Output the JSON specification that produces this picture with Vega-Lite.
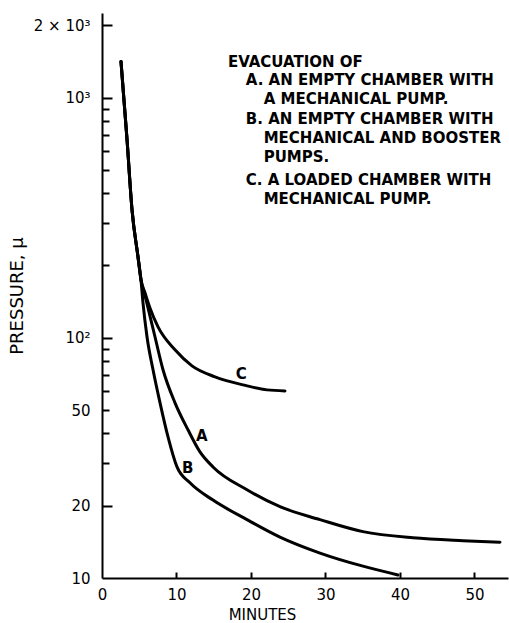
{
  "$schema": "https://vega.github.io/schema/vega-lite/v6.json",
  "width": 406,
  "height": 565,
  "autosize": {"type": "none"},
  "padding": {"left": 102, "top": 13, "right": 1, "bottom": 45},
  "background": "white",
  "config": {
    "view": {"stroke": null},
    "axis": {"grid": false, "domainColor": "black", "labelColor": "black", "titleColor": "black", "labelFont": "DejaVu Sans", "titleFont": "DejaVu Sans", "titleFontWeight": "normal"}
  },
  "resolve": {"axis": {"x": "independent", "y": "independent"}},
  "datasets": {
    "curves": [
      {"series": "A", "minutes": 2.55, "pressure": 1413},
      {"series": "A", "minutes": 3.36, "pressure": 668},
      {"series": "A", "minutes": 4.03, "pressure": 341},
      {"series": "A", "minutes": 4.83, "pressure": 217.5},
      {"series": "A", "minutes": 5.23, "pressure": 174.5},
      {"series": "A", "minutes": 5.91, "pressure": 144},
      {"series": "A", "minutes": 7.11, "pressure": 101},
      {"series": "A", "minutes": 8.19, "pressure": 73.6},
      {"series": "A", "minutes": 9.8, "pressure": 53.6},
      {"series": "A", "minutes": 11.54, "pressure": 41.4},
      {"series": "A", "minutes": 13.15, "pressure": 33.5},
      {"series": "A", "minutes": 14.9, "pressure": 29.0},
      {"series": "A", "minutes": 19.46, "pressure": 23.3},
      {"series": "A", "minutes": 23.89, "pressure": 19.8},
      {"series": "A", "minutes": 29.26, "pressure": 17.5},
      {"series": "A", "minutes": 35.03, "pressure": 15.6},
      {"series": "A", "minutes": 41.74, "pressure": 14.7},
      {"series": "A", "minutes": 48.46, "pressure": 14.3},
      {"series": "A", "minutes": 53.42, "pressure": 14.1},
      {"series": "B", "minutes": 2.55, "pressure": 1413},
      {"series": "B", "minutes": 3.36, "pressure": 668},
      {"series": "B", "minutes": 4.03, "pressure": 341},
      {"series": "B", "minutes": 4.83, "pressure": 217.5},
      {"series": "B", "minutes": 5.23, "pressure": 174.5},
      {"series": "B", "minutes": 5.5, "pressure": 140},
      {"series": "B", "minutes": 6.04, "pressure": 101},
      {"series": "B", "minutes": 6.85, "pressure": 73.6},
      {"series": "B", "minutes": 7.79, "pressure": 53.6},
      {"series": "B", "minutes": 8.86, "pressure": 38.7},
      {"series": "B", "minutes": 10.07, "pressure": 29.0},
      {"series": "B", "minutes": 11.81, "pressure": 24.9},
      {"series": "B", "minutes": 14.9, "pressure": 21.1},
      {"series": "B", "minutes": 19.46, "pressure": 17.5},
      {"series": "B", "minutes": 23.89, "pressure": 14.8},
      {"series": "B", "minutes": 29.26, "pressure": 12.7},
      {"series": "B", "minutes": 35.03, "pressure": 11.2},
      {"series": "B", "minutes": 39.73, "pressure": 10.3},
      {"series": "C", "minutes": 2.55, "pressure": 1413},
      {"series": "C", "minutes": 3.36, "pressure": 668},
      {"series": "C", "minutes": 4.03, "pressure": 341},
      {"series": "C", "minutes": 4.83, "pressure": 217.5},
      {"series": "C", "minutes": 5.23, "pressure": 174.5},
      {"series": "C", "minutes": 5.77, "pressure": 154},
      {"series": "C", "minutes": 6.44, "pressure": 133},
      {"series": "C", "minutes": 7.52, "pressure": 111},
      {"series": "C", "minutes": 9.8, "pressure": 89.1},
      {"series": "C", "minutes": 12.08, "pressure": 76.4},
      {"series": "C", "minutes": 15.17, "pressure": 68.8},
      {"series": "C", "minutes": 18.93, "pressure": 63.7},
      {"series": "C", "minutes": 22.15, "pressure": 60.7},
      {"series": "C", "minutes": 24.56, "pressure": 60.1}
    ],
    "letters": [
      {"label": "A", "minutes": 13.4, "pressure": 39.1},
      {"label": "B", "minutes": 11.5, "pressure": 28.7},
      {"label": "C", "minutes": 18.7, "pressure": 70.8}
    ],
    "notes": [
      {"text": "EVACUATION OF", "minutes": 16.9, "pressure": 1413},
      {"text": "A. AN EMPTY CHAMBER WITH", "minutes": 19.3, "pressure": 1189},
      {"text": "A MECHANICAL PUMP.", "minutes": 21.7, "pressure": 990},
      {"text": "B. AN EMPTY CHAMBER WITH", "minutes": 19.3, "pressure": 817},
      {"text": "MECHANICAL AND BOOSTER", "minutes": 21.7, "pressure": 681},
      {"text": "PUMPS.", "minutes": 21.7, "pressure": 568},
      {"text": "C. A LOADED CHAMBER WITH", "minutes": 19.3, "pressure": 455},
      {"text": "MECHANICAL PUMP.", "minutes": 21.7, "pressure": 379}
    ]
  },
  "layer": [
    {
      "data": {"name": "curves"},
      "mark": {"type": "line", "color": "black", "strokeWidth": 3, "interpolate": "monotone", "strokeCap": "round", "strokeJoin": "round"},
      "encoding": {
        "x": {
          "field": "minutes", "type": "quantitative",
          "scale": {"domain": [0, 54.5], "nice": false},
          "axis": {
            "title": "MINUTES", "titleFontSize": 15, "titleX": 160, "titleY": 44, "titleBaseline": "bottom",
            "values": [0, 10, 20, 30, 40, 50], "format": "d",
            "ticks": true, "tickColor": "black", "tickOpacity": 0, "tickSize": -6, "tickWidth": 2, "domainWidth": 2,
            "labelFontSize": 15, "labelPadding": 15, "labelFlush": false
          }
        },
        "y": {
          "field": "pressure", "type": "quantitative",
          "scale": {"type": "log", "domain": [10, 2250], "nice": false},
          "axis": {
            "title": "PRESSURE, μ", "titleFontSize": 18, "titlePadding": 7,
            "values": [10, 20, 50, 100, 1000, 2000],
            "labelExpr": "datum.value == 10 ? '10' : datum.value == 20 ? '20' : datum.value == 50 ? '50' : datum.value == 100 ? '10²' : datum.value == 1000 ? '10³' : '2 × 10³'",
            "ticks": true, "tickColor": "black", "tickOpacity": 0, "tickSize": 8,
            "tickWidth": 2, "domainWidth": 2,
            "labelFontSize": 15, "labelPadding": 4, "labelFlush": false, "labelOverlap": false
          }
        },
        "detail": {"field": "series"},
        "order": {"field": "minutes"}
      }
    },
    {
      "data": {"name": "letters"},
      "mark": {"type": "text", "font": "DejaVu Sans", "fontWeight": "bold", "fontSize": 15, "color": "black"},
      "encoding": {
        "x": {
          "field": "minutes", "type": "quantitative",
          "axis": {"orient": "top", "offset": -565, "values": [10, 20, 30, 40, 50], "labels": false, "domain": false, "title": null, "ticks": true, "tickColor": "black", "tickSize": 6, "tickWidth": 2}
        },
        "y": {
          "field": "pressure", "type": "quantitative",
          "axis": {
            "orient": "right", "offset": -406, "labels": false, "domain": false, "title": null,
            "values": [20, 30, 40, 50, 60, 70, 80, 90, 100, 200, 300, 400, 500, 600, 700, 800, 900, 1000, 2000],
            "ticks": true, "tickColor": "black",
            "tickSize": {"condition": {"test": "indexof([20, 100, 1000, 2000], datum.value) >= 0", "value": 10}, "value": 7},
            "tickWidth": 2
          }
        },
        "text": {"field": "label"}
      }
    },
    {
      "data": {"name": "notes"},
      "mark": {"type": "text", "font": "DejaVu Sans", "fontWeight": "bold", "fontSize": 15, "align": "left", "baseline": "middle", "color": "black"},
      "encoding": {
        "x": {"field": "minutes", "type": "quantitative", "axis": null},
        "y": {"field": "pressure", "type": "quantitative", "axis": null},
        "text": {"field": "text"}
      }
    }
  ]
}
